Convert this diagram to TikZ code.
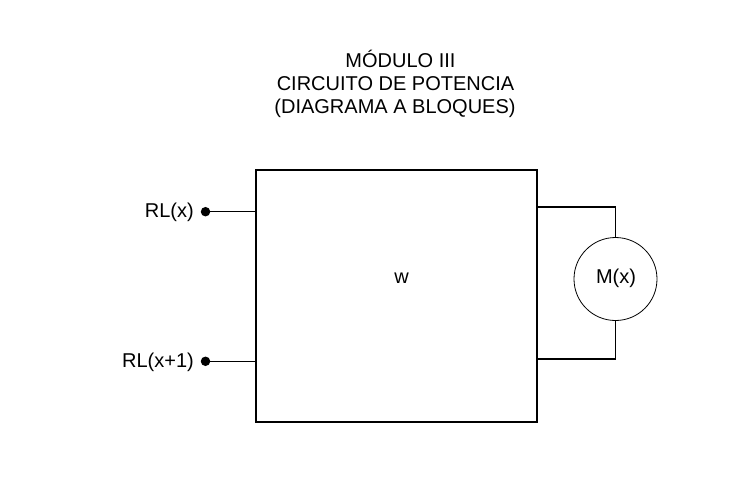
\documentclass[tikz,border=0pt]{standalone}
\usepackage{fontspec}
\setmainfont{Liberation Sans}
\usetikzlibrary{positioning}

\tikzset{
  txt/.style={inner sep=0pt, font=\fontsize{20}{23}\selectfont},
  lead/.style={line width=1.2pt},
  term/.style={circle, fill=black, inner sep=0pt, minimum size=9.5pt}
}

\begin{document}
\begin{tikzpicture}[x=1pt,y=-1pt]

\useasboundingbox (0,0) rectangle (734,493);

\node[txt, anchor=base] (tit1) at (400.5,67.5) {MÓDULO III};
\node[txt, anchor=base] (tit2) at (395.5,90.5) {CIRCUITO DE POTENCIA};
\node[txt, anchor=base] (tit3) at (395,113.5) {(DIAGRAMA A BLOQUES)};

\node[draw, lead, minimum width=281pt, minimum height=252pt, inner sep=0pt] (blk) at (396.5,296) {};
\node[txt] (wlab) at (401.5,278) {w};

\node[draw, circle, line width=0.8pt, minimum size=83pt, inner sep=0pt] (mot) at (615.5,279) {};
\node[txt] (motlab) at (616,278) {M(x)};

\node[term] (rlx) at (205.5,211.7) {};
\node[txt, anchor=base east] (rlxlab) at (194,217.5) {RL(x)};

\node[term] (rlxx) at (205.5,361.3) {};
\node[txt, anchor=base east] (rlxxlab) at (194,367) {RL(x+1)};

\coordinate (out1) at (537,207);
\coordinate (out2) at (537,359);

\draw[lead] (rlx) -- (rlx -| blk.west);
\draw[lead] (rlxx) -- (rlxx -| blk.west);
\draw[lead] (out1) -| (mot.north);
\draw[lead] (out2) -| (mot.south);

\end{tikzpicture}
\end{document}
